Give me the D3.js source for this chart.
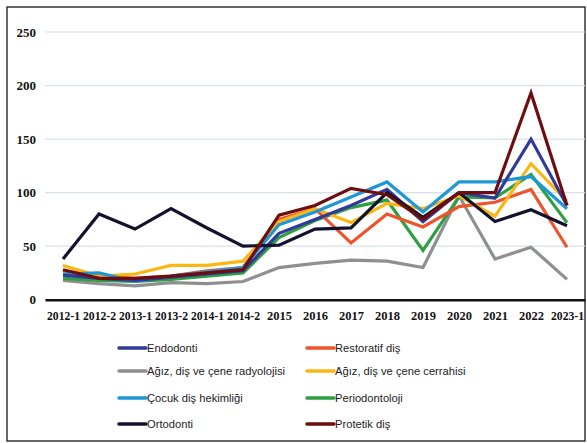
<!DOCTYPE html>
<html>
<head>
<meta charset="utf-8">
<script src="https://cdnjs.cloudflare.com/ajax/libs/d3/7.8.5/d3.min.js"></script>
<style>
  body { margin: 0; background: #fff; }
  svg { display: block; }
</style>
</head>
<body>
<div class="lineChart"></div>
<script>
var periods = ["2012-1","2012-2","2013-1","2013-2","2014-1","2014-2","2015","2016","2017","2018","2019","2020","2021","2022","2023-1"];
var yTicks = [0, 50, 100, 150, 200, 250];

var radyoloji   = [18, 15, 13, 16, 15, 17, 30, 34, 37, 36, 30, 97, 38, 49, 19];
var periodonto  = [20, 18, 17, 19, 22, 25, 58, 74, 86, 93, 46, 96, 95, 117, 72];
var restoratif  = [27, 22, 20, 22, 27, 30, 75, 85, 53, 80, 68, 87, 91, 103, 49];
var cerrahi     = [32, 22, 24, 32, 32, 36, 73, 85, 72, 90, 85, 97, 78, 127, 92];
var cocuk       = [24, 25, 17, 22, 26, 30, 70, 82, 96, 110, 82, 110, 110, 115, 85];
var endodonti   = [23, 20, 18, 21, 24, 27, 62, 75, 88, 103, 73, 100, 95, 150, 88];
var ortodonti   = [38, 80, 66, 85, 67, 50, 51, 66, 67, 100, 77, 100, 73, 84, 69];
var protetik    = [28, 20, 20, 22, 25, 28, 79, 88, 104, 98, 75, 100, 100, 193, 88];

// drawing order (back to front)
var series = [
  {name: "Ağız, diş ve çene radyolojisi", values: radyoloji, color: "#8f8f8f"},
  {name: "Periodontoloji", values: periodonto, color: "#2ea043"},
  {name: "Restoratif diş", values: restoratif, color: "#f0522a"},
  {name: "Ağız, diş ve çene cerrahisi", values: cerrahi, color: "#fbb614"},
  {name: "Çocuk diş hekimliği", values: cocuk, color: "#1f97d6"},
  {name: "Endodonti", values: endodonti, color: "#2f3a9a"},
  {name: "Ortodonti", values: ortodonti, color: "#12122e"},
  {name: "Protetik diş", values: protetik, color: "#6e0d0d"}
];

// legend layout order
var legendOrder = ["Endodonti", "Restoratif diş", "Ağız, diş ve çene radyolojisi", "Ağız, diş ve çene cerrahisi",
                   "Çocuk diş hekimliği", "Periodontoloji", "Ortodonti", "Protetik diş"];

var W = 587, H = 443;
var margin = {top: 32, right: 2, bottom: 144, left: 45};
var width = W - margin.left - margin.right,
    height = H - margin.top - margin.bottom;

var svg = d3.select(".lineChart").append("svg")
    .attr("width", W)
    .attr("height", H);

svg.append("rect")
    .attr("x", 7).attr("y", 7)
    .attr("width", 578).attr("height", 434)
    .attr("fill", "none")
    .attr("stroke", "#333")
    .attr("stroke-width", 1.5);

var x = d3.scalePoint().domain(periods).range([0, width]).padding(0.5),
    y = d3.scaleLinear().domain([0, 250]).range([height + 0.7, 0]);

var g = svg.append("g")
    .attr("transform", "translate(" + margin.left + "," + margin.top + ")");

// grid
g.selectAll(".grid")
  .data(yTicks.filter(function(d) { return d > 0; }))
  .enter().append("line")
    .attr("x1", 0).attr("x2", width)
    .attr("y1", function(d) { return y(d); })
    .attr("y2", function(d) { return y(d); })
    .attr("stroke", "#d6e1ea")
    .attr("stroke-width", 1.2);

// y axis labels
var yAxis = g.append("g")
    .call(d3.axisLeft(y).tickValues(yTicks).tickSize(0).tickPadding(9));
yAxis.select(".domain").remove();
yAxis.selectAll("text")
    .attr("font-family", "'Liberation Serif', serif")
    .attr("font-weight", "bold")
    .attr("font-size", 13)
    .attr("fill", "#111");

// lines
var line = d3.line()
    .x(function(d, i) { return x(periods[i]); })
    .y(function(d) { return y(d); });

g.selectAll(".series")
  .data(series)
  .enter().append("path")
    .attr("class", "series")
    .attr("d", function(d) { return line(d.values); })
    .attr("fill", "none")
    .attr("stroke", function(d) { return d.color; })
    .attr("stroke-width", 3.2)
    .attr("stroke-linejoin", "miter");

// x axis
var xAxis = g.append("g")
    .attr("transform", "translate(0," + y(0) + ")")
    .call(d3.axisBottom(x).tickSize(0).tickPadding(12));
xAxis.select(".domain")
    .attr("stroke", "#111")
    .attr("stroke-width", 2.6);
xAxis.selectAll("text")
    .attr("font-family", "'Liberation Serif', serif")
    .attr("font-weight", "bold")
    .attr("font-size", 11.5)
    .attr("fill", "#111")
    .attr("textLength", function(d) { return d.length > 4 ? 33 : 25; })
    .attr("lengthAdjust", "spacingAndGlyphs");

// legend
var byName = {};
series.forEach(function(s) { byName[s.name] = s; });
var colX = [118, 306], rowY = [348, 371, 398, 424];

var leg = svg.selectAll(".legend")
  .data(legendOrder)
  .enter().append("g")
    .attr("class", "legend")
    .attr("transform", function(d, i) {
      return "translate(" + colX[i % 2] + "," + rowY[Math.floor(i / 2)] + ")";
    });

leg.append("line")
    .attr("x1", 1).attr("x2", 28)
    .attr("y1", 0).attr("y2", 0)
    .attr("stroke", function(d) { return byName[d].color; })
    .attr("stroke-width", 3.5)
    .attr("stroke-linecap", "round");

leg.append("text")
    .attr("x", 29)
    .attr("y", 0)
    .attr("dy", "0.35em")
    .attr("font-family", "'Liberation Sans', Arial, sans-serif")
    .attr("font-size", 11.2)
    .attr("fill", "#222")
    .text(function(d) { return d; });
</script>
</body>
</html>
